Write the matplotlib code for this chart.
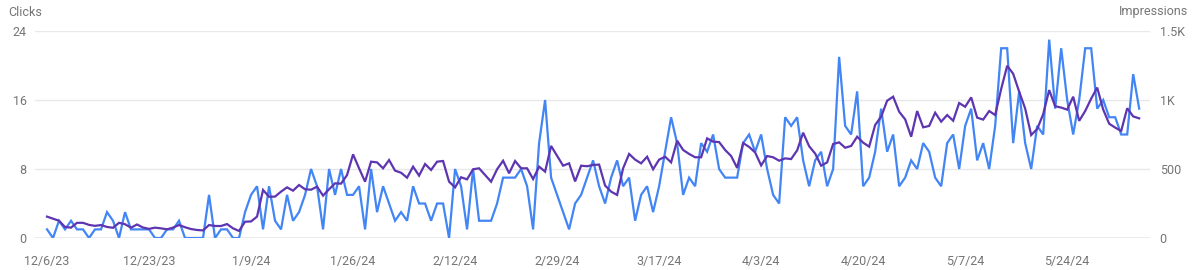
import numpy as np
import pandas as pd
import matplotlib
matplotlib.use("Agg")
import matplotlib.pyplot as plt

plt.rcParams['font.family'] = ['Roboto', 'DejaVu Sans']

# daily data, 12/6/23 .. 6/5/24
start_date = "2023-12-06"
clicks = [1, 0, 2, 1, 2, 1, 1, 0, 1, 1,
          3, 2, 0, 3, 1, 1, 1, 1, 0, 0,
          1, 1, 2, 0, 0, 0, 0, 5, 0, 1,
          1, 0, 0, 3, 5, 6, 1, 6, 2, 1,
          5, 2, 3, 5, 8, 6, 1, 8, 5, 8,
          5, 5, 6, 1, 8, 3, 6, 4, 2, 3,
          2, 6, 4, 4, 2, 4, 4, 0, 8, 6,
          1, 8, 2, 2, 2, 4, 7, 7, 7, 8,
          6, 1, 11, 16, 7, 5, 3, 1, 4, 5,
          7, 9, 6, 4, 7, 9, 6, 7, 2, 5,
          6, 3, 6, 10, 14, 11, 5, 7, 6, 11,
          10, 12, 8, 7, 7, 7, 11, 12, 10, 12,
          8, 5, 4, 14, 13, 14, 9, 6, 9, 10,
          6, 8, 21, 13, 12, 17, 6, 7, 10, 15,
          10, 12, 6, 7, 9, 8, 11, 10, 7, 6,
          11, 12, 8, 13, 15, 9, 11, 8, 13, 22,
          22, 11, 17, 11, 8, 13, 12, 23, 15, 22,
          16, 12, 16, 22, 22, 15, 16, 14, 14, 12,
          12, 19, 15]
impressions = [155, 140, 125, 80, 75, 110, 110, 95, 88, 94,
               80, 74, 110, 100, 75, 98, 76, 66, 75, 70,
               63, 75, 94, 78, 65, 58, 55, 94, 87, 87,
               101, 70, 51, 118, 120, 155, 348, 299, 300, 336,
               367, 343, 384, 353, 350, 372, 307, 353, 396, 394,
               456, 606, 505, 408, 553, 548, 505, 565, 488, 473,
               437, 517, 452, 536, 493, 553, 558, 408, 367, 440,
               425, 498, 505, 456, 408, 498, 560, 469, 558, 505,
               505, 427, 517, 481, 667, 595, 524, 541, 410, 524,
               520, 529, 532, 380, 336, 312, 505, 609, 568, 541,
               589, 498, 568, 589, 548, 705, 638, 609, 585, 585,
               722, 698, 695, 638, 594, 508, 688, 660, 620, 526,
               594, 585, 560, 577, 572, 635, 763, 665, 612, 524,
               548, 681, 693, 654, 667, 734, 691, 662, 819, 879,
               995, 1024, 915, 860, 734, 920, 802, 812, 908, 843,
               891, 850, 978, 951, 1019, 872, 858, 920, 891, 1080,
               1248, 1190, 1060, 938, 746, 790, 897, 1072, 955, 945,
               930, 1024, 849, 920, 1010, 1090, 931, 828, 800, 776,
               940, 881, 867]

clicks_ticks = [0, 8, 16, 24]
impr_ticks = [0, 500, 1000, 1500]
impr_labels = ["0", "500", "1K", "1.5K"]
tick_every = 17  # days between date labels

dates = pd.date_range(start_date, periods=len(clicks), freq="D")
date_ticks = dates[::tick_every]
date_labels = [f"{d.month}/{d.day}/{d.year % 100}" for d in date_ticks]

gray = "#757575"
blue = "#4285f4"
purple = "#5e35b1"

fig = plt.figure(figsize=(12, 2.7), dpi=100)
ax = fig.add_axes([35 / 1200, 1 - 238 / 270, 1115 / 1200, 207 / 270])
ax2 = ax.twinx()

for y in clicks_ticks[1:]:
    ax.axhline(y, color="#e8e8e8", lw=1, zorder=0)
ax.axhline(0, color="#9e9e9e", lw=1, zorder=0)

ax.plot(dates, clicks, color=blue, lw=1.6, solid_joinstyle="miter")
ax2.plot(dates, impressions, color=purple, lw=1.6, solid_joinstyle="miter")

ax.set_xlim(dates[0] - pd.Timedelta(days=2), dates[0] + pd.Timedelta(days=183.8))
ax.set_ylim(0, 24)
ax2.set_ylim(0, 1500)

ax.set_yticks(clicks_ticks)
ax.set_yticklabels([str(v) for v in clicks_ticks])
ax2.set_yticks(impr_ticks)
ax2.set_yticklabels(impr_labels)
ax.set_xticks(date_ticks)
ax.set_xticklabels(date_labels)

ax.tick_params(axis="y", length=0, pad=6, labelsize=9, labelcolor=gray)
ax2.tick_params(axis="y", length=0, pad=7, labelsize=9, labelcolor=gray)
ax.tick_params(axis="x", length=0, pad=12, labelsize=9, labelcolor=gray)

for a in (ax, ax2):
    for s in a.spines.values():
        s.set_visible(False)

fig.text(8 / 1200, 1 - 12 / 270, "Clicks", color=gray, fontsize=9, va="center", ha="left")
fig.text(1188 / 1200, 1 - 12 / 270, "Impressions", color=gray, fontsize=9, va="center", ha="right")

fig.savefig("out.png", dpi=100, facecolor="white")
